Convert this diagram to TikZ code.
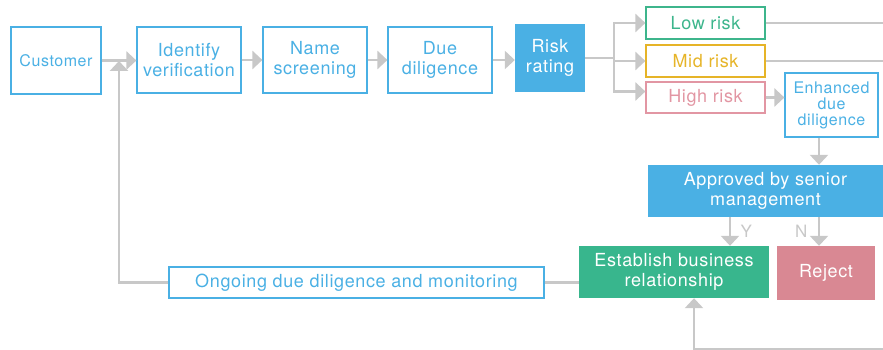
\documentclass[tikz,border=0pt]{standalone}
\usepackage{fontspec}
\setmainfont{TeX Gyre Heros}
\newfontfamily\flowfont[LetterSpace=3.5]{TeX Gyre Heros}
\definecolor{kycblue}{RGB}{74, 176, 228}
\definecolor{kycgreen}{RGB}{56, 182, 141}
\definecolor{kycpink}{RGB}{217, 136, 147}
\definecolor{lowgreen}{RGB}{61, 181, 140}
\definecolor{midyellow}{RGB}{230, 180, 40}
\definecolor{highpink}{RGB}{226, 150, 163}
\definecolor{linegrey}{RGB}{200, 200, 200}
\usetikzlibrary{arrows.meta, positioning, calc}

\begin{document}
\begin{tikzpicture}[x=1pt, y=-1pt,
  stepbox/.style={draw=kycblue, line width=1.2pt, text=kycblue, align=center, inner sep=0pt,
    font=\flowfont\fontsize{18}{20}\selectfont},
  solidbox/.style={fill=#1, text=white, align=center, inner sep=0pt,
    font=\flowfont\fontsize{18}{20}\selectfont},
  riskbox/.style={draw=#1, text=#1, line width=1.2pt, minimum width=119pt, minimum height=32pt,
    inner sep=0pt, font=\flowfont\fontsize{18}{20}\selectfont},
  flow/.style={draw=linegrey, line width=2.5pt, -{Triangle[length=10pt, width=18pt]}},
  link/.style={draw=linegrey, line width=2.5pt},
  lbl/.style={text=linegrey, font=\flowfont\fontsize{17}{17}\selectfont}]

  \useasboundingbox (0,0) rectangle (883,350);

  % Top row
  \node[stepbox, font=\flowfont\fontsize{16}{19}\selectfont, minimum width=90pt, minimum height=67pt] (cust) at (56,60.5) {Customer};
  \foreach \n/\x/\txt in {idv/189/{Identify\\verification}, nsc/315/{Name\\screening}, dd/440/{Due\\diligence}} {
    \node[stepbox, minimum width=104pt, minimum height=66pt] (\n) at (\x,60) {\txt};
  }
  \node[solidbox=kycblue, minimum width=70pt, minimum height=68pt] (rr) at (550,58) {Risk\\rating};

  % Risk levels
  \node[riskbox=lowgreen] (low) at (705.5,23) {Low risk};
  \node[riskbox=midyellow] (mid) at (705.5,61) {Mid risk};
  \node[riskbox=highpink, minimum height=31pt] (high) at (705.5,97.5) {High risk};
  \node[stepbox, font=\flowfont\fontsize{16}{16}\selectfont, minimum width=93pt, minimum height=64pt] (enh) at (831.5,105) {Enhanced\\due\\diligence};

  % Approval and outcome
  \node[solidbox=kycblue, minimum width=235pt, minimum height=52pt] (app) at (765.5,191) {Approved by senior\\management};
  \node[solidbox=kycgreen, minimum width=190pt, minimum height=52pt] (est) at (674,272) {Establish business\\relationship};
  \node[solidbox=kycpink, minimum width=98pt, minimum height=54pt] (rej) at (826,273) {Reject};
  \node[stepbox, minimum width=375pt, minimum height=31pt] (ong) at (356.5,282.5) {Ongoing due diligence and monitoring};

  % Helper coordinates
  \coordinate (fork) at (614,58);
  \coordinate (ycol) at (730,0);
  \coordinate (ncol) at (819,0);
  \coordinate (loop) at (119,61);
  \coordinate (edge) at (883,349);
  \coordinate (back) at (694,349);

  % Connectors
  \foreach \a/\b in {cust/idv, idv/nsc, nsc/dd, dd/rr}
    \draw[flow] (\a.east) -- (\a.east -| \b.west);
  \draw[link] (rr.east) -- (fork);
  \draw[flow] (fork) |- (low.west);
  \draw[flow] (fork) |- (mid.west);
  \draw[flow] (fork) |- ([yshift=6pt]high.west);
  \draw[link] (low.east) -- (low.east -| edge);
  \draw[link] (mid.east) -- (mid.east -| edge);
  \draw[flow] (high.east) -- (high.east -| enh.west);
  \draw[flow] (enh.south -| ncol) -- (app.north -| ncol);
  \draw[flow] (app.south -| ycol) -- node[lbl, right, xshift=6pt] {Y} (est.north -| ycol);
  \draw[flow] (app.south -| ncol) -- node[lbl, left, xshift=-7pt] {N} (rej.north -| ncol);
  \draw[link] (est.west |- ong.east) -- (ong.east);
  \draw[flow] (ong.west) -| (loop);
  \draw[flow] (edge) -- (back) -- (est.south -| back);
\end{tikzpicture}
\end{document}
